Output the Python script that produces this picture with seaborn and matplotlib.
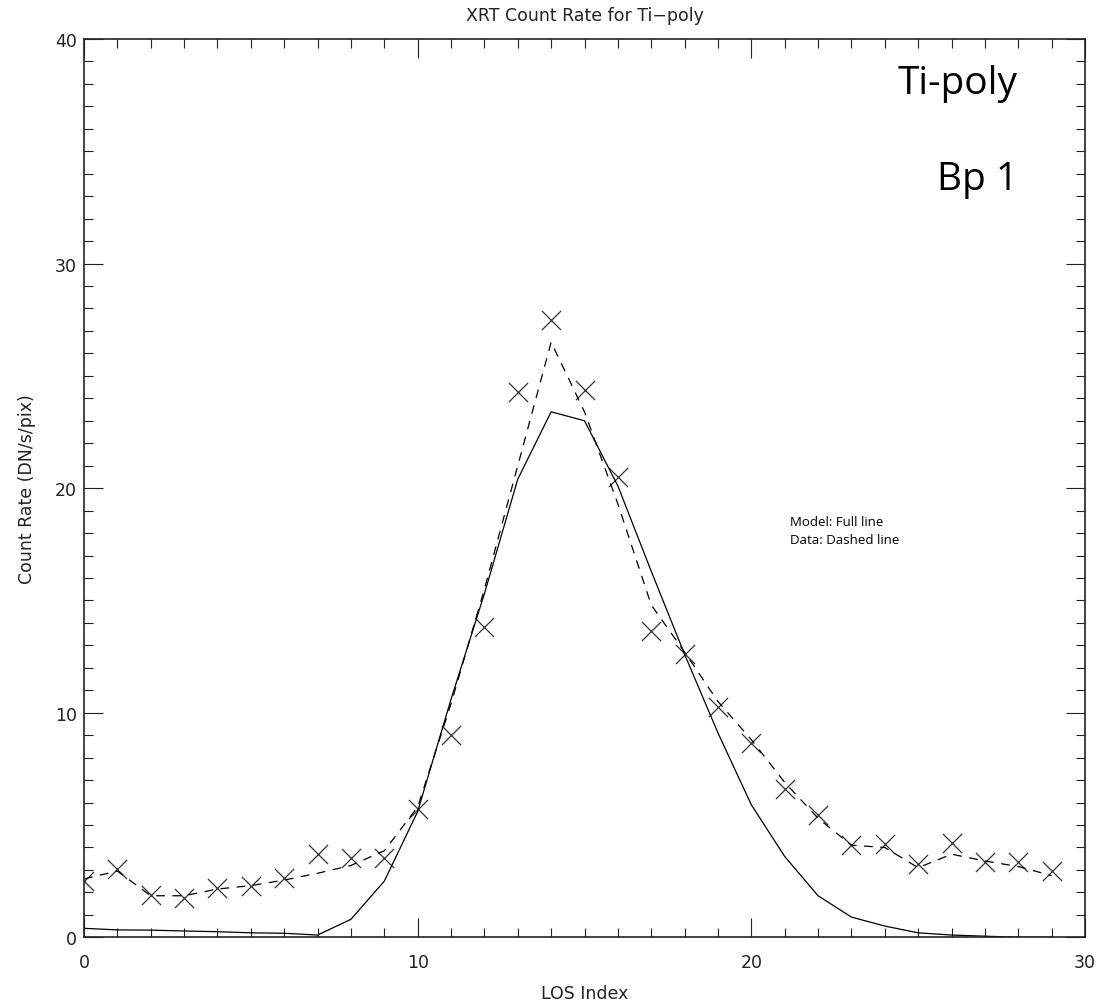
import numpy as np
import pandas as pd
import matplotlib
matplotlib.use("Agg")
import matplotlib.pyplot as plt
import seaborn as sns
from matplotlib.ticker import MultipleLocator

# ---- data ----
los_index = list(range(30))
data_points = [2.5, 3.05, 1.9, 1.75, 2.2, 2.3, 2.65, 3.7, 3.55, 3.55,
               5.7, 9.0, 13.8, 24.3, 27.5, 24.35, 20.5, 13.65, 12.6, 10.25,
               8.65, 6.6, 5.45, 4.1, 4.15, 3.25, 4.2, 3.35, 3.35, 2.95]
data_line = [2.6, 2.95, 1.85, 1.85, 2.15, 2.3, 2.55, 2.85, 3.2, 3.85,
             5.8, 10.4, 15.5, 21.0, 26.5, 23.4, 19.3, 14.8, 12.7, 10.5,
             8.8, 6.9, 5.3, 4.1, 4.0, 3.1, 3.7, 3.4, 3.15, 2.75]
model_line = [0.4, 0.33, 0.32, 0.28, 0.25, 0.2, 0.18, 0.1, 0.8, 2.5,
              5.6, 10.6, 15.3, 20.4, 23.4, 23.0, 20.1, 16.3, 12.6, 9.1,
              5.9, 3.6, 1.85, 0.9, 0.5, 0.2, 0.1, 0.05, 0.0, 0.0]
x_ticks = [0, 10, 20, 30]
y_ticks = [0, 10, 20, 30, 40]

df = pd.DataFrame({"los": los_index, "data": data_points,
                   "smooth": data_line, "model": model_line})

sns.set_theme(style="ticks")
plt.rcParams["font.family"] = ["DejaVu Sans"]

fig = plt.figure(figsize=(11.01, 10.03), dpi=100)
ax = fig.add_axes([84 / 1101, 1 - 938.3 / 1003, (1085 - 84) / 1101, (938.3 - 40) / 1003])

sns.lineplot(data=df, x="los", y="model", ax=ax, color="black", linewidth=0.9)
sns.lineplot(data=df, x="los", y="smooth", ax=ax, color="black", linewidth=0.9,
             linestyle=(0, (7, 6)))
sns.scatterplot(data=df, x="los", y="data", ax=ax, marker="x", s=190,
                color="#333333", linewidth=0.9)

ax.set_xlim(0, 30)
ax.set_ylim(0, 40)
ax.set_xticks(x_ticks)
ax.set_yticks(y_ticks)
ax.xaxis.set_minor_locator(MultipleLocator(1))
ax.yaxis.set_minor_locator(MultipleLocator(1))
ax.tick_params(which="both", direction="in", top=True, right=True,
               width=0.8, color="#222222")
ax.tick_params(which="major", length=14)
ax.tick_params(which="minor", length=6.5)
ax.tick_params(axis="x", which="major", pad=11, labelsize=12.5, labelcolor="#222222")
ax.tick_params(axis="y", which="major", pad=5, labelsize=12.5, labelcolor="#222222")
for sp in ax.spines.values():
    sp.set_linewidth(1.2)
    sp.set_color("#222222")
    sp.set_visible(True)

ax.set_title("XRT Count Rate for Ti\u2212poly", fontsize=12.5, color="#222222", pad=14)
ax.set_xlabel("LOS Index", fontsize=12.5, color="#222222", labelpad=10)
ax.set_ylabel("Count Rate (DN/s/pix)", fontsize=12.5, color="#222222", labelpad=14)

ax.text(1018 / 1101, 1 - 84 / 1003, "Ti-poly", transform=fig.transFigure,
        ha="right", va="center", fontsize=28, family="Open Sans", color="black")
ax.text(1018 / 1101, 1 - 180 / 1003, "Bp 1", transform=fig.transFigure,
        ha="right", va="center", fontsize=28, family="Open Sans", color="black")
ax.text(790 / 1101, 1 - 522 / 1003, "Model: Full line", transform=fig.transFigure,
        ha="left", va="center", fontsize=9.5, family="Open Sans", color="black")
ax.text(790 / 1101, 1 - 540 / 1003, "Data: Dashed line", transform=fig.transFigure,
        ha="left", va="center", fontsize=9.5, family="Open Sans", color="black")

fig.savefig("out.png", dpi=100, facecolor="white")
